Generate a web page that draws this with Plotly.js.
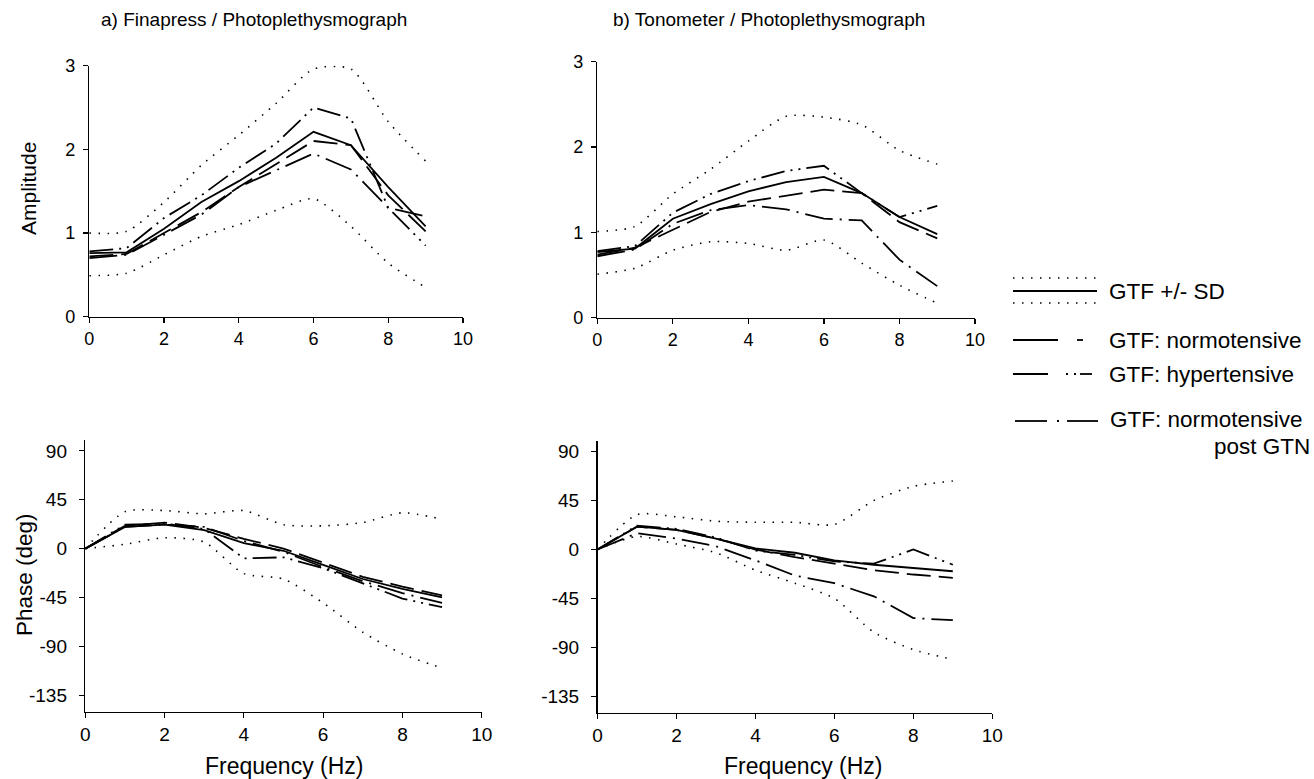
<!DOCTYPE html>
<html>
<head>
<meta charset="utf-8">
<script src="https://cdn.plot.ly/plotly-3.0.1.min.js"></script>
<style>html,body{margin:0;padding:0;background:#fff;}#chart{width:1314px;height:779px;}</style>
</head>
<body>
<div id="chart"></div>
<script>
// ---- data ----
var freq = [0, 1, 2, 3, 4, 5, 6, 7, 8, 9];
var xTicks = [0, 2, 4, 6, 8, 10];
var ampTicks = [0, 1, 2, 3];
var phaseTicks = [-135, -90, -45, 0, 45, 90];
var phaseTickText = ['-135', '-90', '-45', '0', '45', '90'];

// a) Finapress / Photoplethysmograph - amplitude
var ampA_sdUp  = [1.00, 1.02, 1.37, 1.81, 2.17, 2.55, 2.96, 2.96, 2.33, 1.86];
var ampA_sdLo  = [0.49, 0.52, 0.74, 0.96, 1.10, 1.27, 1.41, 1.08, 0.64, 0.35];
var ampA_mean  = [0.76, 0.77, 1.05, 1.37, 1.62, 1.90, 2.21, 2.05, 1.55, 1.08];
var ampA_norm  = [0.72, 0.75, 1.00, 1.25, 1.55, 1.83, 2.10, 2.05, 1.45, 1.02];
var ampA_hyper = [0.78, 0.82, 1.18, 1.45, 1.78, 2.07, 2.50, 2.37, 1.30, 0.85];
var ampA_gtn   = [0.70, 0.74, 0.98, 1.22, 1.55, 1.75, 1.95, 1.76, 1.30, 1.20];

// b) Tonometer / Photoplethysmograph - amplitude
var ampB_sdUp  = [1.01, 1.07, 1.45, 1.74, 2.07, 2.36, 2.35, 2.26, 1.96, 1.80];
var ampB_sdLo  = [0.51, 0.58, 0.79, 0.89, 0.87, 0.79, 0.91, 0.64, 0.38, 0.17];
var ampB_mean  = [0.77, 0.81, 1.16, 1.33, 1.48, 1.59, 1.65, 1.46, 1.18, 0.98];
var ampB_norm  = [0.74, 0.82, 1.03, 1.24, 1.36, 1.43, 1.50, 1.46, 1.12, 0.93];
var ampB_hyper = [0.78, 0.84, 1.23, 1.45, 1.60, 1.72, 1.78, 1.46, 1.18, 1.31];
var ampB_gtn   = [0.72, 0.80, 1.10, 1.26, 1.32, 1.27, 1.16, 1.14, 0.68, 0.37];

// a) phase
var phA_sdUp  = [0, 34, 35, 32, 35, 22, 21, 24, 33, 27];
var phA_sdLo  = [0, 4, 10, 6, -23, -28, -50, -77, -97, -110];
var phA_mean  = [0, 20, 22, 17, 5, -2, -15, -28, -37, -45];
var phA_norm  = [0, 21, 24, 19, 9, 0, -13, -26, -35, -43];
var phA_hyper = [0, 22, 23, 18, -9, -8, -18, -32, -46, -54];
var phA_gtn   = [0, 20, 22, 20, 7, -3, -17, -30, -41, -50];

// b) phase
var phB_sdUp  = [0, 32, 30, 26, 25, 25, 23, 45, 58, 63];
var phB_sdLo  = [0, 12, 5, -3, -19, -31, -45, -76, -92, -101];
var phB_mean  = [0, 21, 18, 10, 1, -3, -10, -14, -17, -20];
var phB_norm  = [0, 21, 18, 10, 0, -7, -13, -19, -23, -26];
var phB_hyper = [0, 22, 19, 11, -1, -5, -11, -13, 0, -14];
var phB_gtn   = [0, 15, 10, 3, -10, -24, -31, -43, -63, -65];

// ---- styles ----
var W = 1314, H = 779;
function fx(p) { return p / W; }
function fy(p) { return 1 - p / H; }
var FONT = 'Liberation Sans, Arial, Helvetica, sans-serif';
var DOT = '1.5px,7.5px';
var NORM = '24px,8px';
var HYPER = '24px,6px,2px,6px,2px,6px';
var GTN = '28px,7px,2px,7px';

var styles = {
  sd:    {color: '#000', width: 1.6, dash: DOT, shape: 'spline', smoothing: 0.7},
  mean:  {color: '#000', width: 1.8, dash: 'solid'},
  norm:  {color: '#000', width: 1.8, dash: NORM},
  hyper: {color: '#000', width: 1.8, dash: HYPER},
  gtn:   {color: '#000', width: 1.8, dash: GTN}
};

var traces = [];
function add(y, st, xa, ya) {
  traces.push({x: freq, y: y, type: 'scatter', mode: 'lines', line: styles[st],
               xaxis: xa, yaxis: ya, showlegend: false, hoverinfo: 'skip'});
}
var panels = [
  ['x', 'y',  ampA_sdUp, ampA_sdLo, ampA_mean, ampA_norm, ampA_hyper, ampA_gtn],
  ['x2', 'y2', ampB_sdUp, ampB_sdLo, ampB_mean, ampB_norm, ampB_hyper, ampB_gtn],
  ['x3', 'y3', phA_sdUp, phA_sdLo, phA_mean, phA_norm, phA_hyper, phA_gtn],
  ['x4', 'y4', phB_sdUp, phB_sdLo, phB_mean, phB_norm, phB_hyper, phB_gtn]
];
panels.forEach(function (p) {
  add(p[2], 'sd', p[0], p[1]);
  add(p[3], 'sd', p[0], p[1]);
  add(p[5], 'norm', p[0], p[1]);
  add(p[6], 'hyper', p[0], p[1]);
  add(p[7], 'gtn', p[0], p[1]);
  add(p[4], 'mean', p[0], p[1]);
});

function xax(l, r, anchor, fs) {
  return {domain: [fx(l), fx(r)], range: [0, 10], tickvals: xTicks, anchor: anchor,
    showline: true, linecolor: '#000', linewidth: 1.5, ticks: 'outside', ticklen: 5,
    tickcolor: '#000', tickwidth: 1.2, showgrid: false, zeroline: false,
    tickfont: {family: FONT, size: fs, color: '#000'}, fixedrange: true};
}
function yax(top, bot, range, ticks, text, anchor, standoff, fs) {
  var a = {domain: [fy(bot), fy(top)], range: range, tickvals: ticks, anchor: anchor,
    showline: true, linecolor: '#000', linewidth: 1.5, ticks: 'outside', ticklen: 5,
    tickcolor: '#000', tickwidth: 1.2, showgrid: false, zeroline: false,
    ticklabelstandoff: standoff,
    tickfont: {family: FONT, size: fs, color: '#000'}, fixedrange: true};
  if (text) a.ticktext = text;
  return a;
}

var ann = [];
function txt(t, x, y, size, opts) {
  var a = {text: t, x: fx(x), y: fy(y), xref: 'paper', yref: 'paper', showarrow: false,
           font: {family: FONT, size: size, color: '#000'}, xanchor: 'left', yanchor: 'middle'};
  for (var k in (opts || {})) a[k] = opts[k];
  ann.push(a);
}
txt('a) Finapress / Photoplethysmograph', 99, 19, 19);
txt('b) Tonometer / Photoplethysmograph', 611, 19, 19);
txt('Amplitude', 28, 189, 21, {textangle: -90, xanchor: 'center'});
txt('Phase (deg)', 24, 575, 22.5, {textangle: -90, xanchor: 'center'});
txt('Frequency (Hz)', 284, 766, 23, {xanchor: 'center'});
txt('Frequency (Hz)', 803, 766, 23, {xanchor: 'center'});
txt('GTF +/- SD', 1107, 291, 22.5);
txt('GTF: normotensive', 1107, 340, 22.5);
txt('GTF: hypertensive', 1107, 374, 22.5);
txt('GTF: normotensive', 1108, 419, 22.5);
txt('post GTN', 1312, 446, 22.5, {xanchor: 'right'});

var shp = [];
function seg(x0, x1, y, dash, w) {
  shp.push({type: 'line', xref: 'paper', yref: 'paper', x0: fx(x0), x1: fx(x1), y0: fy(y), y1: fy(y),
            line: {color: '#000', width: w || 1.8, dash: dash || 'solid'}});
}
// legend samples
seg(1013, 1097, 278, DOT, 1.4);
seg(1013, 1097, 291);
seg(1013, 1097, 303, DOT, 1.4);
seg(1013, 1058, 340);
seg(1077, 1083, 340);
seg(1013, 1048, 374);
seg(1066, 1068, 374);
seg(1074, 1076, 374);
seg(1080, 1092, 374);
seg(1015, 1047, 421);
seg(1057, 1059, 421);
seg(1067, 1098, 421);

var layout = {
  width: W, height: H, autosize: false,
  margin: {l: 0, r: 0, t: 0, b: 0},
  paper_bgcolor: '#fff', plot_bgcolor: '#fff',
  showlegend: false,
  xaxis:  xax(89.3, 463, 'y', 18),
  yaxis:  yax(65.7, 316.7, [0, 3], ampTicks, null, 'x', 4, 18),
  xaxis2: xax(597.3, 975, 'y2', 18),
  yaxis2: yax(61.7, 317.7, [0, 3], ampTicks, null, 'x2', 4, 18),
  xaxis3: xax(85.3, 481.7, 'y3', 19),
  yaxis3: yax(440, 711.5, [-150, 100], phaseTicks, phaseTickText, 'x3', 8, 19),
  xaxis4: xax(597.5, 992.3, 'y4', 19),
  yaxis4: yax(440.7, 712.7, [-150, 100], phaseTicks, phaseTickText, 'x4', 8, 19),
  annotations: ann,
  shapes: shp
};

Plotly.newPlot('chart', traces, layout, {staticPlot: true, displayModeBar: false});
</script>
</body>
</html>
